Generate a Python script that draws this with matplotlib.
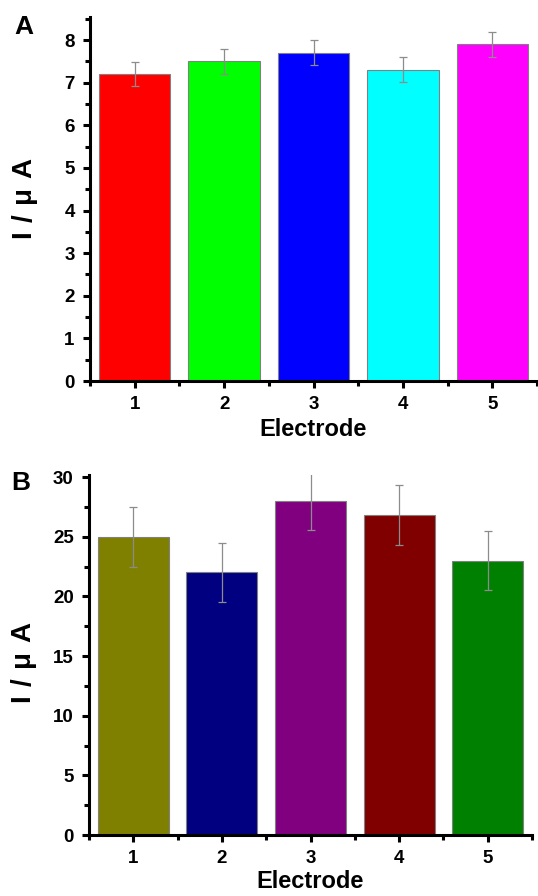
import numpy as np
import matplotlib
matplotlib.use("Agg")
import matplotlib.pyplot as plt
from matplotlib.ticker import MultipleLocator

plt.rcParams['font.family'] = ['Liberation Sans', 'DejaVu Sans']
plt.rcParams['font.weight'] = 'bold'
plt.rcParams['mathtext.fontset'] = 'custom'
plt.rcParams['mathtext.rm'] = 'Liberation Sans'
plt.rcParams['mathtext.bf'] = 'Liberation Sans:bold'

# ---------- data ----------
electrodes = [1, 2, 3, 4, 5]

current_a = [7.2, 7.5, 7.7, 7.3, 7.9]
error_a = [0.29, 0.29, 0.29, 0.29, 0.29]
colors_a = ['#ff0000', '#00ff00', '#0000ff', '#00ffff', '#ff00ff']

current_b = [25.0, 22.0, 28.0, 26.8, 23.0]
error_b = [2.5, 2.5, 2.4, 2.5, 2.5]
colors_b = ['#808000', '#000080', '#800080', '#800000', '#008000']

W, H = 538, 896
fig = plt.figure(figsize=(W / 100, H / 100), dpi=100)


def panel(rect, values, errors, colors, ymax, major, minor, letter, letter_xy, ylab_y, xlab_y):
    ax = fig.add_axes(rect)
    ax.bar(electrodes, values, width=0.8, color=colors, edgecolor='#808080', linewidth=0.8, zorder=2)
    ax.errorbar(electrodes, values, yerr=errors, fmt='none', ecolor='#8c8c8c',
                elinewidth=0.9, capsize=2.8, capthick=0.9, zorder=3)
    ax.set_xlim(0.5, 5.5)
    ax.set_ylim(0, ymax)
    ax.set_xticks(electrodes)
    ax.xaxis.set_minor_locator(MultipleLocator(0.5))
    ax.yaxis.set_major_locator(MultipleLocator(major))
    ax.yaxis.set_minor_locator(MultipleLocator(minor))
    for s in ['top', 'right']:
        ax.spines[s].set_visible(False)
    for s in ['left', 'bottom']:
        ax.spines[s].set_linewidth(2.2)
    ax.tick_params(which='major', direction='out', length=5, width=2.2, labelsize=13.5, pad=6)
    ax.tick_params(which='minor', direction='out', length=3.5, width=2.2)
    ax.set_xlabel('Electrode', fontsize=17, fontweight='bold')
    ax.xaxis.set_label_coords(0.5, xlab_y)
    ax.set_ylabel(r'$\mathbf{I\ /}\ \mathrm{\mu}\ \mathbf{A}$', fontsize=20)
    ax.yaxis.set_label_coords(-0.112, ylab_y)
    fig.text(letter_xy[0], letter_xy[1], letter, fontsize=19, fontweight='bold',
             ha='left', va='top')
    return ax


panel([90 / W, 1 - 381 / H, 447 / W, 364 / H], current_a, error_a, colors_a,
      8.54, 1, 0.5, 'A', (14 / W, 1 - 15 / H), 0.5, -0.102)
panel([89 / W, 1 - 835 / H, 443 / W, 360 / H], current_b, error_b, colors_b,
      30.17, 5, 2.5, 'B', (11 / W, 1 - 471 / H), 0.48, -0.098)

fig.savefig('out.png', dpi=100)
